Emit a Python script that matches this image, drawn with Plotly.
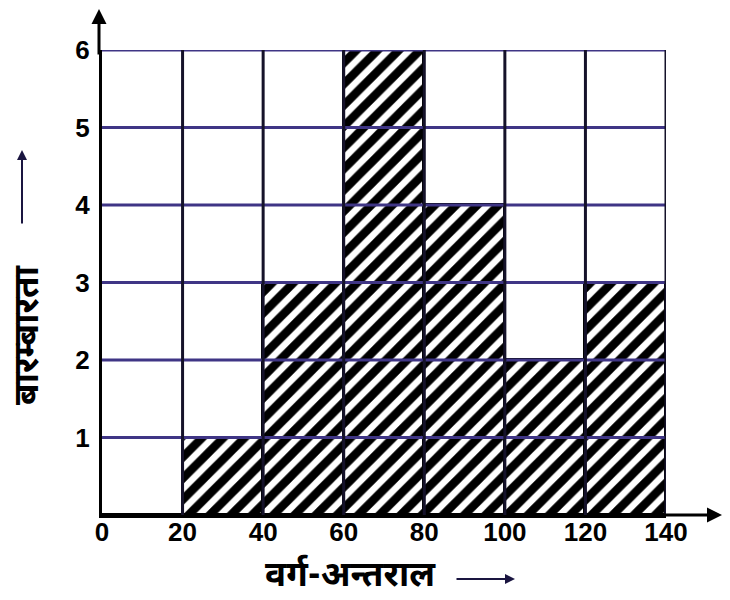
import plotly.graph_objects as go

# Data
bin_edges = [0, 20, 40, 60, 80, 100, 120, 140]
frequencies = [0, 1, 3, 6, 4, 2, 3]
y_ticks = [0, 1, 2, 3, 4, 5, 6]
x_title = "वर्ग-अन्तराल"
y_title = "बारम्बारता"

centers = [(bin_edges[i] + bin_edges[i + 1]) / 2 for i in range(len(frequencies))]
widths = [bin_edges[i + 1] - bin_edges[i] for i in range(len(frequencies))]

fig = go.Figure()
fig.add_trace(go.Bar(
    x=centers, y=frequencies, width=widths,
    marker=dict(
        color="white",
        line=dict(color="black", width=3),
        pattern=dict(shape="/", fgcolor="#000000", bgcolor="#ffffff", fgopacity=1,
                     fillmode="replace", size=15, solidity=0.56),
    ),
    hoverinfo="skip",
))

grid_h = "#3f3585"
grid_v = "#15122a"
shapes = []
for yv in y_ticks[1:]:
    shapes.append(dict(type="line", xref="x", yref="y", x0=bin_edges[0], x1=bin_edges[-1],
                       y0=yv, y1=yv, line=dict(color=grid_h, width=3), layer="above"))
for xv in bin_edges[1:]:
    shapes.append(dict(type="line", xref="x", yref="y", x0=xv, x1=xv,
                       y0=y_ticks[0], y1=y_ticks[-1], line=dict(color=grid_v, width=3), layer="above"))

font_digits = dict(family="Liberation Sans Narrow, Liberation Sans, sans-serif", size=26, color="black")
font_hi = dict(family="Noto Sans Devanagari, Noto Sans, sans-serif", size=35, color="black")

# paper geometry (page pixels): plot area x 102..666, y 50..515
def px(x):
    return (x - 102) / 564

def py(y):
    return (515 - y) / 465

annotations = [
    # y-axis arrow
    dict(xref="paper", yref="paper", x=px(99), y=py(6), ax=0, ay=50, text="",
         showarrow=True, arrowhead=2, arrowsize=1, arrowwidth=3, arrowcolor="black"),
    # x-axis arrow
    dict(xref="paper", yref="paper", x=px(722), y=0, ax=-60, ay=0, text="",
         showarrow=True, arrowhead=2, arrowsize=1, arrowwidth=3, arrowcolor="black"),
    # y title
    dict(xref="paper", yref="paper", x=px(29), y=py(335), text="<b>" + y_title + "</b>",
         textangle=-90, showarrow=False, font=font_hi, xanchor="center", yanchor="middle"),
    dict(xref="paper", yref="paper", x=px(22), y=py(150), ax=0, ay=75, text="",
         showarrow=True, arrowhead=2, arrowsize=1, arrowwidth=2, arrowcolor="#1a1540"),
    # x title
    dict(xref="paper", yref="paper", x=px(350), y=py(577), text="<b>" + x_title + "</b>",
         showarrow=False, font=font_hi, xanchor="center", yanchor="middle"),
    dict(xref="paper", yref="paper", x=px(515), y=py(579), ax=-60, ay=0, text="",
         showarrow=True, arrowhead=2, arrowsize=1, arrowwidth=2, arrowcolor="#1a1540"),
]

fig.update_layout(
    width=722, height=592,
    margin=dict(l=94, r=64, t=42, b=85),
    paper_bgcolor="white", plot_bgcolor="white",
    showlegend=False,
    bargap=0,
    shapes=shapes,
    annotations=annotations,
    xaxis=dict(range=[bin_edges[0], bin_edges[-1]], tickmode="array", tickvals=bin_edges,
               ticktext=["<b>%d</b>" % v for v in bin_edges], showgrid=False, zeroline=False,
               showline=True, linecolor="black", linewidth=3, ticks="", tickfont=font_digits,
               ticklabelstandoff=-8),
    yaxis=dict(range=[y_ticks[0], y_ticks[-1]], tickmode="array", tickvals=y_ticks[1:],
               ticktext=["<b>%d</b>" % v for v in y_ticks[1:]], showgrid=False, zeroline=False,
               showline=True, linecolor="black", linewidth=3, ticks="", tickfont=font_digits,
               ticklabelstandoff=4),
)

fig.write_html("out.html")
